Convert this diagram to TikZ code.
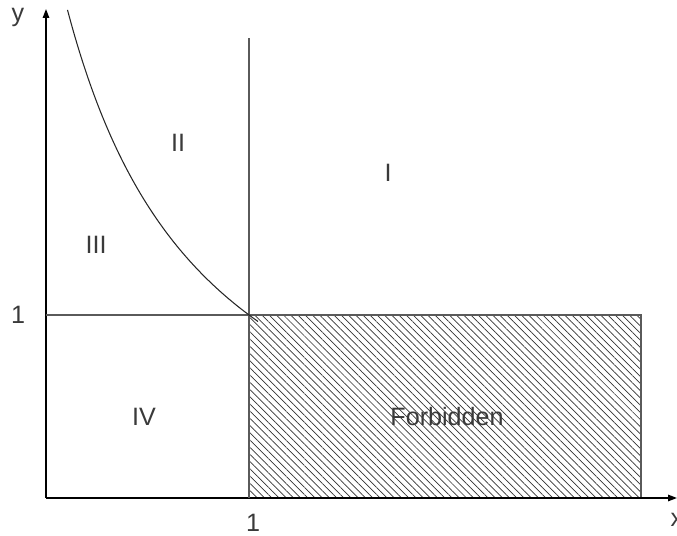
\documentclass[tikz,border=0pt]{standalone}
\usepackage{fontspec}
\setmainfont{Liberation Sans}
\definecolor{inkgray}{RGB}{58,58,58}
\definecolor{linegray}{RGB}{90,90,90}
\usepackage{tikz}
\usetikzlibrary{arrows.meta, patterns.meta}

\begin{document}
\begin{tikzpicture}[every node/.style={font=\fontsize{14.3}{17}\selectfont, text=inkgray}]
  \useasboundingbox (-0.92,-0.76) rectangle (12.62,9.96);

  % Forbidden region
  \fill[pattern={Lines[angle=-45, distance=2.9pt, line width=0.4pt]}, pattern color=black!80]
    (4.06,0) rectangle (11.9,3.66);
  \draw[linegray, line width=0.6pt] (4.06,3.66) -- (11.9,3.66) -- (11.9,0);

  % Axes
  \coordinate (O) at (0,0);
  \coordinate (xend) at (12.62,0);
  \coordinate (yend) at (0,9.78);
  \draw[line width=0.8pt, -{Triangle[length=5pt, width=3.6pt]}] (O) -- (xend);
  \draw[line width=0.8pt, -{Triangle[length=5pt, width=3.6pt]}] (O) -- (yend);
  \node (ylab) at (-0.56,9.62) {y};
  \node (xlab) at (12.62,-0.44) {x};

  % Lines at x=1 and y=1
  \draw[linegray, line width=0.6pt] (4.06,0) -- (4.06,9.2);
  \draw[linegray, line width=0.6pt] (0,3.66) -- (4.06,3.66);
  \node (xone) at (4.14,-0.5) {1};
  \node (yone) at (-0.56,3.66) {1};

  % Boundary curve
  \draw[black!85, line width=0.6pt, domain=0.43:4.24, samples=80]
    plot (\x, {31.7/(\x+2.462)-1.2});

  % Regions
  \node (rI) at (6.84,6.5) {I};
  \node (rII) at (2.64,7.1) {II};
  \node (rIII) at (1.0,5.06) {III};
  \node (rIV) at (1.96,1.62) {IV};
  \node (rF) at (8.02,1.62) {Forbidden};
\end{tikzpicture}
\end{document}
